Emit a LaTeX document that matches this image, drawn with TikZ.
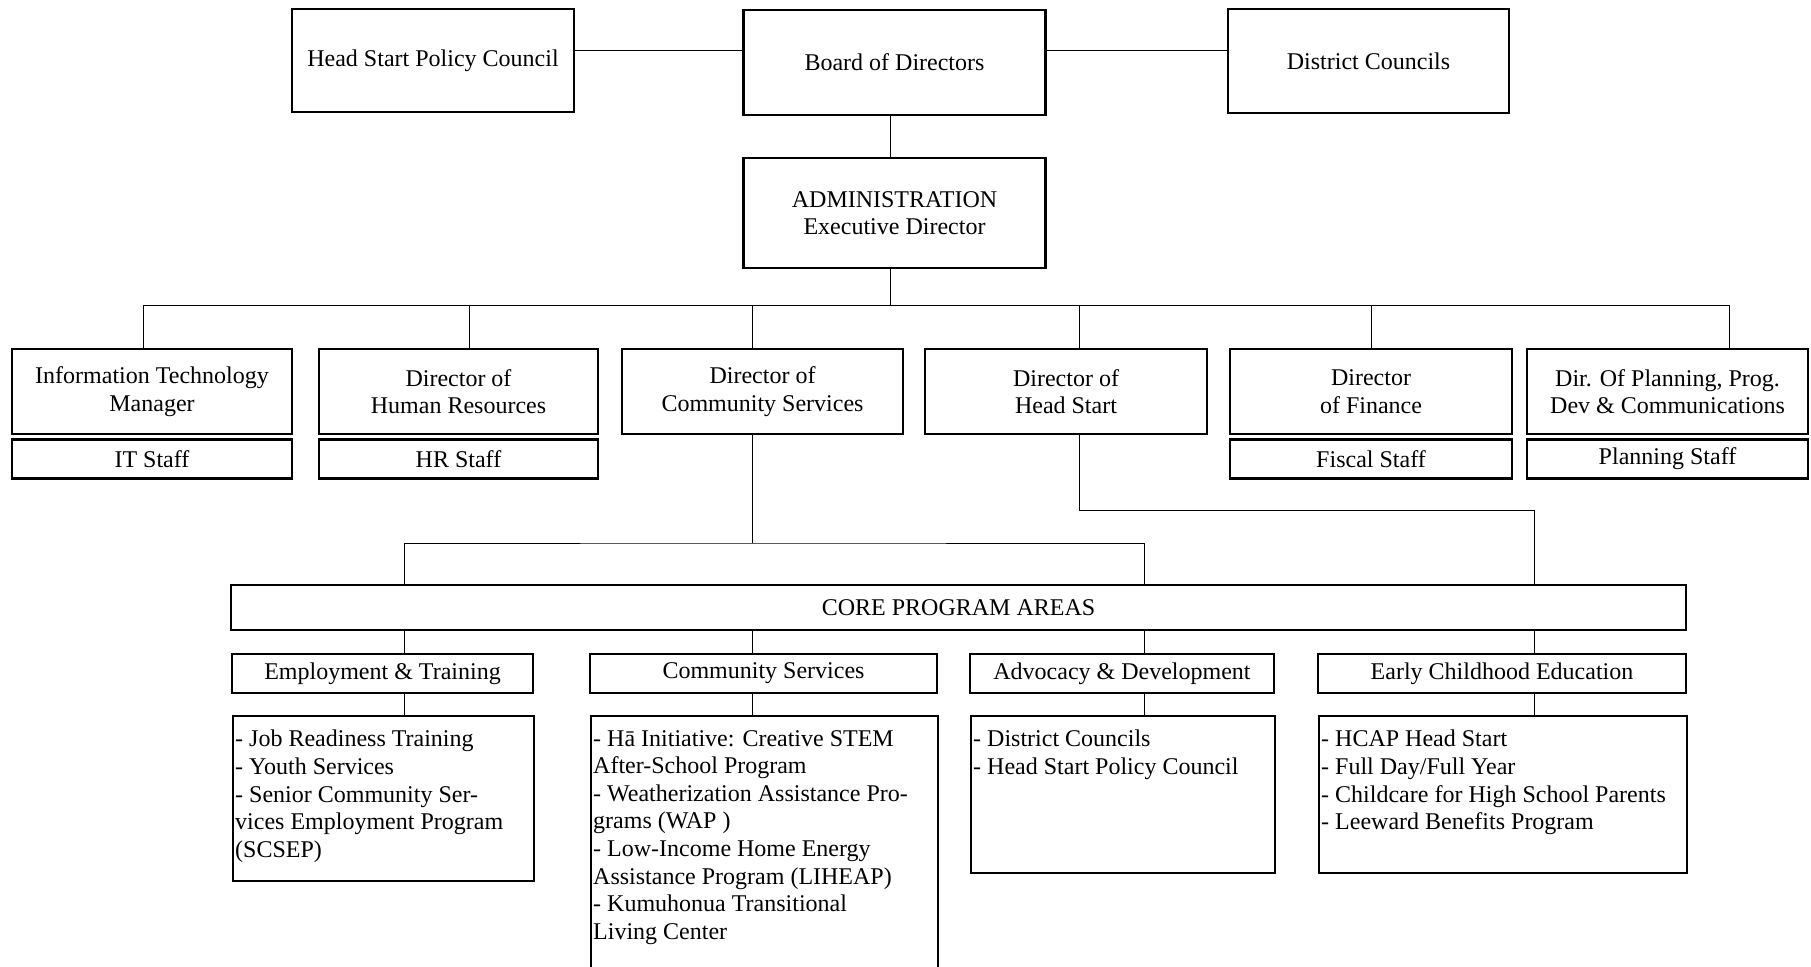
\documentclass[tikz,border=0pt]{standalone}
\usepackage{fontspec}
\setmainfont{Liberation Serif}
\usetikzlibrary{positioning}

\newcommand{\chartfont}{\fontsize{24}{27.6}\selectfont}

\begin{document}
\begin{tikzpicture}[x=1pt,y=-1pt,
    box/.style={draw,line width=2.4pt,align=center,font=\chartfont,inner sep=0pt},
    listtext/.style={anchor=north west,align=left,font=\chartfont,inner xsep=3pt,inner ysep=15pt},
    link/.style={line width=1pt}]
    \useasboundingbox (0,0) rectangle (1811,966);
    \clip (0,0) rectangle (1811,966);

    % Governance
    \node[box,minimum width=282,minimum height=103] (hspc) at (433,60.5) {Head Start Policy Council};
    \node[box,minimum width=302,minimum height=105] (board) at (894.5,62.5) {Board of Directors};
    \node[box,minimum width=281,minimum height=104] (dc) at (1368.5,61) {District Councils};
    \node[box,minimum width=302,minimum height=110] (admin) at (894.5,213) {ADMINISTRATION\\Executive Director};

    \coordinate (gov) at ([yshift=10]hspc.east);
    \coordinate (spine) at (890,0);
    \draw[link] (gov) -- (gov -| board.west);
    \draw[link] (gov -| board.east) -- (gov -| dc.west);
    \draw[link] (board.south -| spine) -- (admin.north -| spine);

    % Directors
    \node[box,minimum width=280,minimum height=85] (it) at (152,391.5) {Information Technology\\Manager};
    \node[box,minimum width=279,minimum height=85] (hr) at (458.5,391.5) {Director of\\Human Resources};
    \node[box,minimum width=281,minimum height=85] (cs) at (762.5,391.5) {Director of\\Community Services};
    \node[box,minimum width=282,minimum height=85] (hs) at (1066,391.5) {Director of\\Head Start};
    \node[box,minimum width=282,minimum height=85] (fin) at (1371,391.5) {Director\\of Finance};
    \node[box,minimum width=281,minimum height=85] (plan) at (1667.5,391.5) {Dir. Of Planning, Prog.\\Dev \& Communications};

    % Staff
    \node[box,minimum width=280,minimum height=39,anchor=north] (itstaff) at ([yshift=-3]it.south) {IT Staff};
    \node[box,minimum width=279,minimum height=39,anchor=north] (hrstaff) at ([yshift=-3]hr.south) {HR Staff};
    \node[box,minimum width=282,minimum height=39,anchor=north] (finstaff) at ([yshift=-3]fin.south) {Fiscal Staff};
    \node[box,minimum width=281,minimum height=39,anchor=north] (planstaff) at ([yshift=-3]plan.south) {Planning Staff};

    \coordinate (busL) at (143,305);
    \coordinate (busR) at (1729,305);
    \draw[link] (admin.south -| spine) -- (busL -| spine);
    \draw[link] (busL) -- (busR);
    \foreach \n/\x in {it/143,hr/469,cs/752,hs/1079,fin/1371,plan/1729} {
      \coordinate (d-\n) at (\x,305);
      \draw[link] (d-\n) -- (d-\n |- \n.north);
    }

    % Core program areas
    \node[box,minimum width=1455,minimum height=45] (core) at (958.5,607.5) {CORE PROGRAM AREAS};

    \node[box,minimum width=301,minimum height=39] (et) at (382.5,673.5) {Employment \& Training};
    \node[box,minimum width=347,minimum height=39] (csv) at (763.5,673.5) {Community Services};
    \node[box,minimum width=304,minimum height=39] (adv) at (1122,673.5) {Advocacy \& Development};
    \node[box,minimum width=368,minimum height=39] (ece) at (1502,673.5) {Early Childhood Education};

    \node[box,minimum width=301,minimum height=165,anchor=north west] (etl) at (232,715) {};
    \node[box,minimum width=347,minimum height=270,anchor=north west] (csvl) at (590,715) {};
    \node[box,minimum width=304,minimum height=157,anchor=north west] (advl) at (970,715) {};
    \node[box,minimum width=368,minimum height=157,anchor=north west] (ecel) at (1318,715) {};

    \node[listtext] (etl-t) at (etl.north west) {- Job Readiness Training\\- Youth Services\\- Senior Community Ser-\\vices Employment Program\\(SCSEP)};
    \node[listtext] (csvl-t) at (csvl.north west) {- Hā Initiative: Creative STEM\\After-School Program\\- Weatherization Assistance Pro-\\grams (WAP )\\- Low-Income Home Energy\\Assistance Program (LIHEAP)\\- Kumuhonua Transitional\\Living Center};
    \node[listtext] (advl-t) at (advl.north west) {- District Councils\\- Head Start Policy Council};
    \node[listtext] (ecel-t) at (ecel.north west) {- HCAP Head Start\\- Full Day/Full Year\\- Childcare for High School Parents\\- Leeward Benefits Program};

    % Links to the core
    \foreach \n/\x in {et/404,csv/752,adv/1144,ece/1534}
      \coordinate (k-\n) at (\x,0);
    \coordinate (csj) at (752,543);
    \coordinate (hsj) at (1079,510);
    \draw[link] (d-cs |- cs.south) -- (csj);
    \draw[link] (core.north -| k-et) |- (csj) -| (core.north -| k-adv);
    \draw[link] (d-hs |- hs.south) -- (hsj) -| (core.north -| k-ece);
    \foreach \n in {et,csv,adv,ece} {
      \draw[link] (core.south -| k-\n) -- (\n.north -| k-\n);
      \draw[link] (\n.south -| k-\n) -- (\n l.north -| k-\n);
    }
\end{tikzpicture}
\end{document}
